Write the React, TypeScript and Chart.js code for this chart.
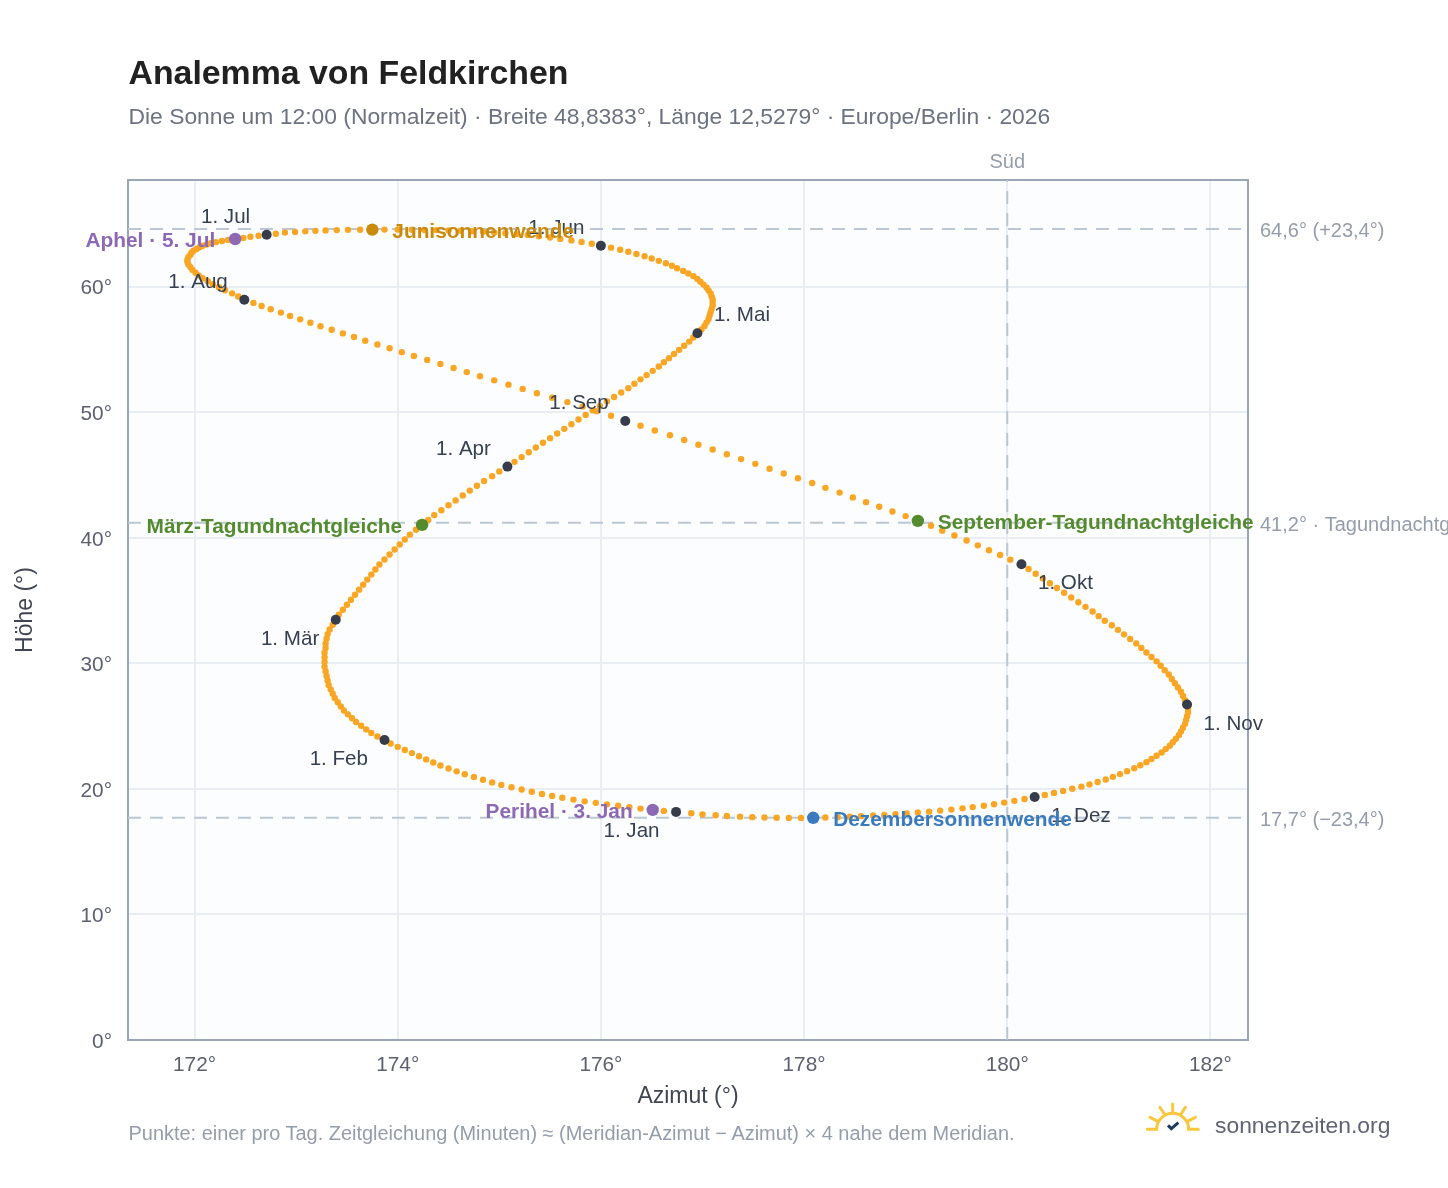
import React, { useEffect, useRef } from "react";
import { Chart, registerables } from "chart.js";

Chart.register(...registerables);

const title = "Analemma von Feldkirchen";
const subtitle = "Die Sonne um 12:00 (Normalzeit) · Breite 48,8383°, Länge 12,5279° · Europe/Berlin · 2026";
const footnote = "Punkte: einer pro Tag. Zeitgleichung (Minuten) ≈ (Meridian-Azimut − Azimut) × 4 nahe dem Meridian.";
const brand = "sonnenzeiten.org";

const azJan = [176.74,176.62,176.51,176.39,176.28,176.17,176.06,175.95,175.84,175.73,175.62,175.52,175.42,175.32,175.22,175.12,175.02,174.93,174.84,174.75,174.66,174.58,174.50,174.42,174.35,174.28,174.21,174.14,174.07,174.00,173.93];
const altJan = [18.17,18.25,18.33,18.43,18.55,18.66,18.77,18.89,19.01,19.15,19.29,19.44,19.60,19.77,19.95,20.13,20.32,20.52,20.73,20.95,21.17,21.40,21.63,21.86,22.10,22.35,22.60,22.85,23.10,23.35,23.62];
const azFeb = [173.87,173.80,173.74,173.69,173.64,173.59,173.55,173.51,173.47,173.44,173.41,173.38,173.36,173.34,173.32,173.31,173.30,173.29,173.28,173.28,173.28,173.28,173.29,173.29,173.30,173.31,173.33,173.36];
const altFeb = [23.90,24.18,24.46,24.74,25.03,25.33,25.63,25.94,26.25,26.57,26.90,27.24,27.58,27.93,28.28,28.64,29.00,29.37,29.74,30.11,30.48,30.85,31.22,31.59,31.96,32.33,32.70,33.08];
const azMar = [173.39,173.42,173.46,173.50,173.54,173.58,173.62,173.66,173.70,173.74,173.78,173.82,173.87,173.92,173.97,174.02,174.07,174.12,174.18,174.24,174.30,174.36,174.43,174.50,174.57,174.64,174.71,174.78,174.85,174.93,175.00];
const altMar = [33.47,33.87,34.27,34.67,35.07,35.47,35.87,36.27,36.67,37.07,37.47,37.87,38.27,38.67,39.07,39.47,39.86,40.25,40.64,41.03,41.42,41.81,42.20,42.59,42.98,43.37,43.76,44.15,44.53,44.91,45.29];
const azApr = [175.08,175.15,175.22,175.29,175.36,175.43,175.50,175.57,175.64,175.71,175.78,175.85,175.92,175.99,176.06,176.13,176.20,176.27,176.33,176.39,176.45,176.51,176.57,176.62,176.67,176.72,176.77,176.82,176.87,176.91];
const altApr = [45.67,46.05,46.43,46.81,47.19,47.57,47.94,48.31,48.68,49.05,49.42,49.79,50.15,50.51,50.87,51.22,51.57,51.92,52.27,52.62,52.96,53.30,53.64,53.98,54.31,54.64,54.97,55.30,55.63,55.96];
const azMay = [176.95,176.99,177.02,177.04,177.06,177.07,177.08,177.09,177.10,177.10,177.10,177.09,177.08,177.06,177.04,177.01,176.98,176.95,176.91,176.86,176.81,176.75,176.70,176.64,176.57,176.50,176.43,176.35,176.27,176.19,176.10];
const altMay = [56.30,56.59,56.88,57.16,57.43,57.70,57.97,58.23,58.49,58.74,58.99,59.23,59.47,59.71,59.94,60.17,60.40,60.62,60.84,61.05,61.26,61.47,61.67,61.87,62.06,62.25,62.43,62.61,62.78,62.95,63.11];
const azJun = [176.00,175.91,175.81,175.71,175.60,175.50,175.39,175.28,175.17,175.06,174.95,174.84,174.73,174.62,174.50,174.38,174.26,174.14,174.00,173.87,173.75,173.63,173.51,173.40,173.29,173.19,173.09,172.99,172.89,172.80];
const altJun = [63.27,63.42,63.56,63.69,63.81,63.92,64.02,64.11,64.19,64.26,64.32,64.37,64.42,64.46,64.49,64.51,64.53,64.54,64.55,64.55,64.55,64.54,64.53,64.51,64.48,64.45,64.41,64.36,64.31,64.22];
const azJul = [172.71,172.63,172.55,172.48,172.40,172.33,172.27,172.21,172.16,172.12,172.08,172.05,172.02,171.99,171.97,171.96,171.94,171.93,171.93,171.94,171.96,171.98,172.01,172.04,172.08,172.13,172.18,172.24,172.30,172.37,172.43];
const altJul = [64.14,64.06,63.98,63.89,63.80,63.72,63.64,63.55,63.46,63.36,63.26,63.14,63.01,62.87,62.72,62.55,62.37,62.17,61.96,61.76,61.55,61.34,61.12,60.90,60.67,60.44,60.20,59.96,59.72,59.47,59.22];
const azAug = [172.49,172.58,172.66,172.75,172.85,172.94,173.04,173.14,173.24,173.35,173.46,173.57,173.68,173.80,173.92,174.04,174.16,174.29,174.42,174.55,174.68,174.81,174.95,175.09,175.23,175.37,175.52,175.67,175.82,175.96,176.10];
const altAug = [58.96,58.71,58.46,58.20,57.94,57.67,57.40,57.13,56.85,56.57,56.28,55.99,55.70,55.40,55.10,54.79,54.48,54.17,53.85,53.53,53.20,52.87,52.54,52.20,51.86,51.51,51.16,50.81,50.45,50.09,49.72];
const azSep = [176.24,176.39,176.53,176.68,176.82,176.96,177.10,177.24,177.38,177.52,177.66,177.80,177.94,178.08,178.21,178.35,178.48,178.61,178.74,178.87,179.00,179.12,179.25,179.36,179.48,179.60,179.71,179.82,179.93,180.03];
const altSep = [49.30,48.93,48.55,48.17,47.79,47.41,47.03,46.65,46.27,45.89,45.50,45.12,44.74,44.36,43.98,43.60,43.22,42.84,42.47,42.10,41.73,41.35,40.96,40.57,40.18,39.79,39.40,39.01,38.63,38.26];
const azOct = [180.14,180.21,180.28,180.35,180.42,180.49,180.56,180.63,180.70,180.77,180.84,180.90,180.96,181.03,181.09,181.15,181.21,181.27,181.32,181.37,181.42,181.47,181.51,181.55,181.59,181.62,181.65,181.68,181.71,181.73,181.75];
const altOct = [37.90,37.52,37.14,36.76,36.38,36.00,35.62,35.24,34.87,34.50,34.13,33.76,33.39,33.03,32.67,32.31,31.95,31.59,31.23,30.87,30.51,30.16,29.81,29.46,29.11,28.76,28.42,28.08,27.74,27.40,27.06];
const azNov = [181.77,181.78,181.78,181.77,181.76,181.75,181.73,181.71,181.69,181.66,181.63,181.60,181.56,181.52,181.47,181.42,181.37,181.31,181.25,181.18,181.11,181.04,180.97,180.89,180.81,180.73,180.64,180.55,180.46,180.37];
const altNov = [26.72,26.41,26.10,25.79,25.48,25.18,24.88,24.58,24.29,24.00,23.72,23.44,23.17,22.90,22.64,22.38,22.13,21.88,21.64,21.41,21.18,20.96,20.75,20.55,20.36,20.18,20.01,19.84,19.68,19.52];
const azDec = [180.27,180.17,180.07,179.97,179.87,179.77,179.66,179.56,179.45,179.34,179.23,179.12,179.01,178.90,178.79,178.68,178.56,178.45,178.33,178.21,178.09,177.97,177.85,177.73,177.61,177.49,177.37,177.24,177.13,177.00,176.89];
const altDec = [19.36,19.20,19.05,18.91,18.78,18.66,18.55,18.45,18.35,18.27,18.19,18.12,18.05,17.99,17.93,17.88,17.83,17.79,17.75,17.72,17.70,17.69,17.69,17.70,17.72,17.75,17.79,17.84,17.90,17.97,18.06];

const monthAz = [azJan, azFeb, azMar, azApr, azMay, azJun, azJul, azAug, azSep, azOct, azNov, azDec];
const monthAlt = [altJan, altFeb, altMar, altApr, altMay, altJun, altJul, altAug, altSep, altOct, altNov, altDec];
const monthNames = ["1. Jan", "1. Feb", "1. Mär", "1. Apr", "1. Mai", "1. Jun", "1. Jul", "1. Aug", "1. Sep", "1. Okt", "1. Nov", "1. Dez"];

const eventNames = ["Perihel · 3. Jan", "März-Tagundnachtgleiche", "Junisonnenwende", "Aphel · 5. Jul", "September-Tagundnachtgleiche", "Dezembersonnenwende"];
const eventAz = [176.51, 174.24, 173.75, 172.40, 179.12, 178.09];
const eventAlt = [18.33, 41.03, 64.55, 63.80, 41.35, 17.70];

const refLevels = [64.6, 41.2, 17.7];
const refLabels = ["64,6° (+23,4°)", "41,2° · Tagundnachtgleiche", "17,7° (−23,4°)"];
const meridian = 180;
const meridianLabel = "Süd";

const xTicks = [172, 174, 176, 178, 180, 182];
const yTicks = [0, 10, 20, 30, 40, 50, 60];
const xMin = 171.345, xMax = 182.37, yMin = 0, yMax = 68.5;
const xTitle = "Azimut (°)";
const yTitle = "Höhe (°)";

// styles and label placement
const FONT = '"Liberation Sans", Arial, sans-serif';
const eventColors = ["#8e69b3", "#558b2f", "#ca8a0e", "#8e69b3", "#558b2f", "#3a7abd"];
const eventSides = [-1, -1, 1, -1, 1, 1];
const monthPlace = [[-1, 1], [-1, 1], [-1, 1], [-1, -1], [1, -1], [-1, -1], [-1, -1], [-1, -1], [-1, -1], [1, 1], [1, 1], [1, 1]];

const overlay = {
  id: "overlay",
  beforeDraw(chart: any) {
    const { ctx, chartArea: a } = chart;
    ctx.save();
    ctx.fillStyle = "#fbfdff";
    ctx.fillRect(a.left, a.top, a.right - a.left, a.bottom - a.top);
    ctx.restore();
  },
  beforeDatasetsDraw(chart: any) {
    const { ctx, chartArea: a } = chart;
    ctx.save();
    ctx.strokeStyle = "#9aa6b5";
    ctx.lineWidth = 2;
    ctx.strokeRect(a.left, a.top, a.right - a.left, a.bottom - a.top);
    ctx.restore();
  },
  afterDatasetsDraw(chart: any) {
    const { ctx, scales } = chart;
    const X = (v: number) => scales.x.getPixelForValue(v);
    const Y = (v: number) => scales.y.getPixelForValue(v);
    ctx.save();
    ctx.textBaseline = "middle";

    ctx.font = `20px ${FONT}`;
    ctx.fillStyle = "#949daa";
    ctx.textAlign = "left";
    refLevels.forEach((lv, i) => ctx.fillText(refLabels[i], 1260, Y(lv) + 3));
    ctx.textAlign = "center";
    ctx.fillText(meridianLabel, X(meridian), 162.5);

    ctx.font = `20.6px ${FONT}`;
    ctx.fillStyle = "#374151";
    monthNames.forEach((name, i) => {
      const [sx, sy] = monthPlace[i];
      ctx.textAlign = sx < 0 ? "right" : "left";
      ctx.fillText(name, X(monthAz[i][0]) + sx * 16.5, Y(monthAlt[i][0]) + sy * 18.5 + 1);
    });

    ctx.font = `bold 20.85px ${FONT}`;
    eventNames.forEach((name, i) => {
      ctx.fillStyle = eventColors[i];
      ctx.textAlign = eventSides[i] < 0 ? "right" : "left";
      ctx.fillText(name, X(eventAz[i]) + eventSides[i] * 20, Y(eventAlt[i]) + 2.5);
    });
    ctx.restore();
  },
};

const absText = (left: number, top: number, size: number, color: string, weight = 400): React.CSSProperties => ({
  position: "absolute",
  left,
  top: top - size,
  height: size * 2,
  lineHeight: `${size * 2}px`,
  fontSize: size,
  color,
  fontWeight: weight,
  fontFamily: FONT,
  whiteSpace: "nowrap",
  margin: 0,
});

export default function App() {
  const ref = useRef<HTMLCanvasElement>(null);
  useEffect(() => {
    const daily = monthAz.flatMap((m, i) => m.map((x, d) => ({ x, y: monthAlt[i][d] })));
    const firsts = monthAz.map((m, i) => ({ x: m[0], y: monthAlt[i][0] }));
    const events = eventAz.map((x, i) => ({ x, y: eventAlt[i] }));
    const dashed = { type: "line", showLine: true, pointRadius: 0, borderColor: "#bcc7d3", borderWidth: 2, borderDash: [13, 9], fill: false, clip: false };
    const chart = new Chart(ref.current!, {
      type: "scatter",
      data: {
        datasets: [
          ...refLevels.map((lv) => ({ ...dashed, data: [{ x: xMin, y: lv }, { x: xMax, y: lv }], order: 5 })),
          { ...dashed, data: [{ x: meridian, y: yMin }, { x: meridian, y: yMax }], order: 5 },
          { data: daily, pointRadius: 3.2, pointBackgroundColor: "#f8a623", pointBorderWidth: 0, showLine: false, order: 4 },
          { data: firsts, pointRadius: 5, pointBackgroundColor: "#363c49", pointBorderWidth: 0, showLine: false, order: 3 },
          { data: events, pointRadius: 6.2, pointBackgroundColor: eventColors, pointBorderWidth: 0, showLine: false, order: 2 },
        ] as any,
      },
      options: {
        responsive: false,
        animation: false,
        events: [],
        layout: { padding: { left: 0, top: 180, right: 200, bottom: 0 } },
        plugins: { legend: { display: false }, tooltip: { enabled: false } },
        scales: {
          x: {
            type: "linear",
            min: xMin,
            max: xMax,
            afterBuildTicks: (s: any) => { s.ticks = xTicks.map((value) => ({ value })); },
            afterFit: (s: any) => { s.height = 148; },
            grid: { color: "#e9eef4", lineWidth: 2, drawTicks: false },
            border: { display: false },
            ticks: { color: "#5c6070", font: { size: 20.8, family: FONT }, padding: 13, maxRotation: 0, callback: (v: any) => `${v}°` },
            title: { display: true, text: xTitle, color: "#3f4652", font: { size: 23, family: FONT }, padding: { top: 0, bottom: 78 } },
          },
          y: {
            type: "linear",
            min: yMin,
            max: yMax,
            afterBuildTicks: (s: any) => { s.ticks = yTicks.map((value) => ({ value })); },
            afterFit: (s: any) => { s.width = 128; },
            grid: { color: "#e9eef4", lineWidth: 2, drawTicks: false },
            border: { display: false },
            ticks: { color: "#5c6070", font: { size: 20.8, family: FONT }, padding: 16, labelOffset: 2, callback: (v: any) => `${v}°` },
            title: { display: true, text: yTitle, color: "#3f4652", font: { size: 23, family: FONT }, padding: { top: 12, bottom: 0 } },
          },
        },
      } as any,
      plugins: [overlay],
    });
    return () => chart.destroy();
  }, []);

  return (
    <div style={{ position: "absolute", left: 0, top: 0, width: 1448, height: 1188, overflow: "hidden", background: "#fff" }}>
      <canvas ref={ref} width={1448} height={1188} style={{ position: "absolute", left: 0, top: 0, width: 1448, height: 1188 }} />
      <div style={absText(128.5, 73, 33.85, "#212121", 700)}>{title}</div>
      <div style={absText(128.5, 117, 22.87, "#6b7280")}>{subtitle}</div>
      <div style={absText(128.5, 1134, 19.96, "#949daa")}>{footnote}</div>
      <div style={absText(1215, 1126, 22.87, "#5f6373")}>{brand}</div>
      <svg style={{ position: "absolute", left: 1130, top: 1090 }} width={280} height={60} viewBox="0 0 840 180">
        <g fill="none" stroke="#f8c73e" strokeWidth={9} strokeLinecap="round">
          <path d="M52 118 H80 A48 48 0 0 1 176 118 H205" />
          <path d="M128 42 V66 M90 52 L103 72 M166 52 L153 72 M60 82 L84 94 M196 82 L172 94" />
        </g>
        <path d="M114 106 L124 116 L145 98" fill="none" stroke="#1f3b5c" strokeWidth={9} />
      </svg>
    </div>
  );
}
